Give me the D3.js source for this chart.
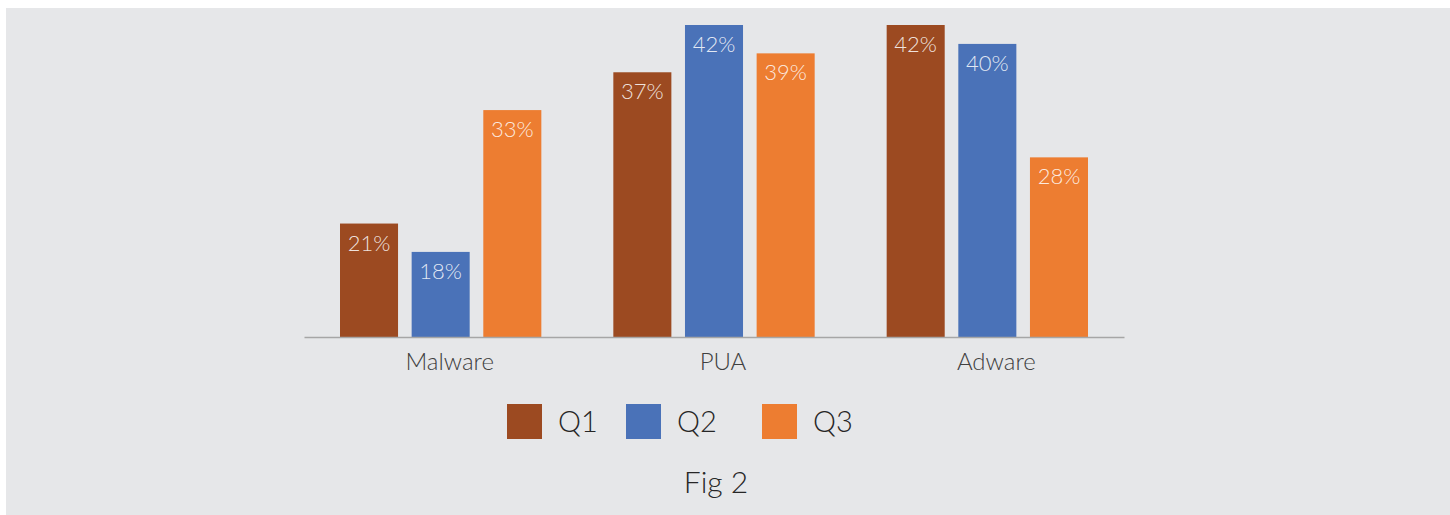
<!DOCTYPE html>
<html>
<head>
<meta charset="utf-8">
<script src="https://cdn.jsdelivr.net/npm/d3@7"></script>
<style>
  html, body { margin: 0; padding: 0; background: #ffffff; }
  svg { display: block; }
  text { font-family: Lato, "Open Sans", "DejaVu Sans", sans-serif; }
</style>
</head>
<body>
<svg id="chart" width="1450" height="515"></svg>
<script>
// Share of detections by category, per quarter (%)
const categories = ["Malware", "PUA", "Adware"];
const seriesNames = ["Q1", "Q2", "Q3"];
const q1 = [21, 37, 42];
const q2 = [18, 42, 40];
const q3 = [33, 39, 28];
const seriesColors = ["#9C4A21", "#4A72B8", "#ED7D31"];
const caption = "Fig 2";

const seriesValues = [q1, q2, q3];

const svg = d3.select("#chart");

// panel background
svg.append("rect")
  .attr("x", 6).attr("y", 8)
  .attr("width", 1444).attr("height", 507)
  .attr("fill", "#E6E7E9");

const plot = { left: 304, right: 1124, top: 25, bottom: 337 };

const x0 = d3.scaleBand()
  .domain(categories)
  .range([plot.left, plot.right]);

const groupInset = 36;
const x1 = d3.scaleBand()
  .domain(seriesNames)
  .range([groupInset, x0.bandwidth() - groupInset])
  .paddingInner(0.19);

const y = d3.scaleLinear()
  .domain([9, 42])
  .range([plot.bottom, plot.top]);

const rows = categories.map((c, i) => ({
  category: c,
  values: seriesNames.map((s, j) => ({ series: s, value: seriesValues[j][i], color: seriesColors[j] }))
}));

const groups = svg.append("g")
  .selectAll("g")
  .data(rows)
  .join("g")
  .attr("transform", d => `translate(${x0(d.category)},0)`);

groups.selectAll("rect")
  .data(d => d.values)
  .join("rect")
  .attr("x", d => x1(d.series))
  .attr("y", d => y(d.value))
  .attr("width", x1.bandwidth())
  .attr("height", d => y(y.domain()[0]) - y(d.value))
  .attr("fill", d => d.color);

groups.selectAll("text.value")
  .data(d => d.values)
  .join("text")
  .attr("class", "value")
  .attr("x", d => x1(d.series) + x1.bandwidth() / 2)
  .attr("y", d => y(d.value) + 27)
  .attr("text-anchor", "middle")
  .attr("font-size", 22)
  .attr("font-weight", 300)
  .attr("fill", "#ffffff")
  .attr("fill-opacity", 0.85)
  .text(d => d.value + "%");

// category axis
const xAxis = d3.axisBottom(x0).tickSize(0).tickPadding(16);
const axisG = svg.append("g")
  .attr("transform", `translate(0,${plot.bottom})`)
  .call(xAxis);
axisG.select(".domain")
  .attr("stroke", "#A6A6A6")
  .attr("stroke-width", 1.5);
axisG.selectAll(".tick text")
  .attr("dx", 9)
  .attr("font-family", "Lato, 'Open Sans', sans-serif")
  .attr("font-size", 24)
  .attr("font-weight", 300)
  .attr("fill", "#404040");

// legend
const legendX = [507, 626, 762];
const legend = svg.append("g")
  .selectAll("g")
  .data(seriesNames)
  .join("g")
  .attr("transform", (d, i) => `translate(${legendX[i]},404)`);

legend.append("rect")
  .attr("width", 35).attr("height", 35)
  .attr("fill", (d, i) => seriesColors[i]);

legend.append("text")
  .attr("x", 51)
  .attr("y", 28)
  .attr("font-size", 29)
  .attr("font-weight", 300)
  .attr("fill", "#262626")
  .text(d => d);

// caption
svg.append("text")
  .attr("x", 716)
  .attr("y", 493)
  .attr("text-anchor", "middle")
  .attr("font-size", 30)
  .attr("font-weight", 300)
  .attr("fill", "#262626")
  .text(caption);
</script>
</body>
</html>
